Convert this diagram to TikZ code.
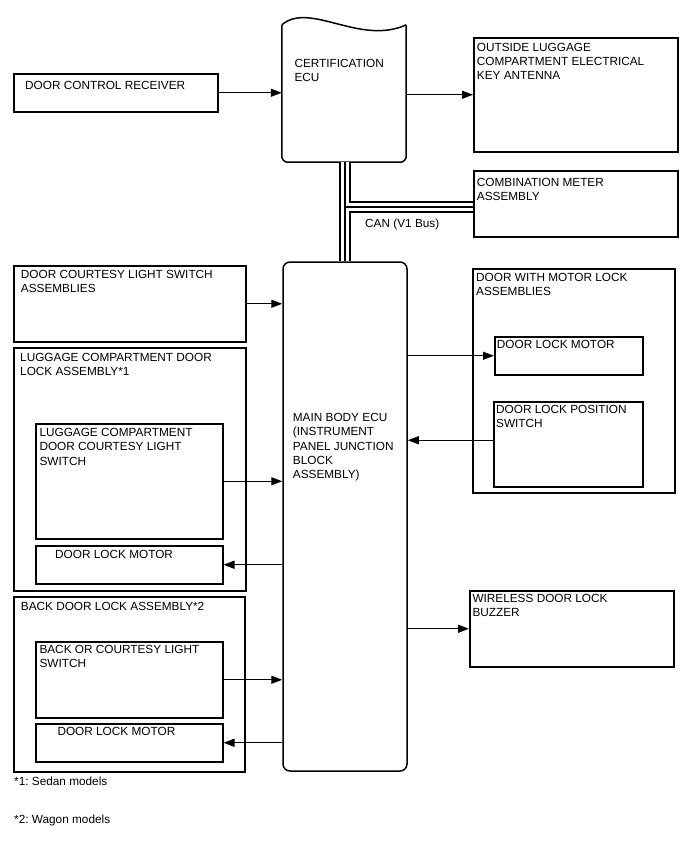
\documentclass[tikz,border=0pt]{standalone}
\usepackage{fontspec}
\setmainfont{Liberation Sans}
\usetikzlibrary{arrows.meta}
\frenchspacing
\tikzset{
  block/.style={
    draw,
    rectangle,
    line width=1.5pt,
    inner sep=0pt,
    anchor=north west
  },
  ecu box/.style={
    draw,
    rectangle,
    rounded corners=7pt,
    line width=1.5pt,
    inner sep=0pt
  },
  ecu line/.style={
    line width=1.5pt,
    line join=round
  },
  sig/.style={
    ->,
    line width=1.3pt
  },
  lbl/.style={
    anchor=north west,
    align=left,
    inner sep=0pt,
    font=\fontsize{11.8}{14.2}\selectfont
  },
  can outer/.style={line width=12.4pt},
  can inner/.style={line width=8pt, color=white},
  can core/.style={line width=1.4pt}
}

\begin{document}
\begin{tikzpicture}[x=1pt, y=-1pt, >={Triangle[length=11pt, width=8pt]}]
    % page frame: 1 unit = 1 px, y grows downwards
    \useasboundingbox[fill=white] (0,0) rectangle (688,852);

    % certification ECU (wavy top)
    \node[inner sep=0pt, minimum width=124, minimum height=137] (cert) at (344,93.5) {};
    \draw[ecu line, rounded corners=6pt] (cert.north west) -- (cert.south west) -- (cert.south east) -- (cert.north east);
    \draw[ecu line] (cert.north west) .. controls (310,1) and (360,46) .. (cert.north east);
    \node[lbl] (cert-t) at (294.3,59.3) {CERTIFICATION\\ECU};

    % main body ECU
    \node[ecu box, minimum width=124, minimum height=509] (main) at (345,516.5) {};
    \node[lbl] (main-t) at (292.7,413.3) {MAIN BODY ECU\\(INSTRUMENT\\PANEL JUNCTION\\BLOCK\\ASSEMBLY)};

    % top row
    \node[block, minimum width=204, minimum height=38] (receiver) at (13,73) {};
    \node[lbl] (receiver-t) at (25,80.7) {DOOR CONTROL RECEIVER};
    \node[block, minimum width=204, minimum height=114] (antenna) at (473,37) {};
    \node[lbl] (antenna-t) at (476.7,42.7) {OUTSIDE LUGGAGE\\COMPARTMENT ELECTRICAL\\KEY ANTENNA};
    \node[block, minimum width=204, minimum height=66] (meter) at (473,170) {};
    \node[lbl] (meter-t) at (476.7,178.3) {COMBINATION METER\\ASSEMBLY};

    % left side
    \node[block, minimum width=232, minimum height=76] (courtesy) at (13,265) {};
    \node[lbl] (courtesy-t) at (20.7,270) {DOOR COURTESY LIGHT SWITCH\\ASSEMBLIES};

    \node[block, minimum width=232, minimum height=243] (lugassy) at (13,347) {};
    \node[lbl] (lugassy-t) at (20,353.3) {LUGGAGE COMPARTMENT DOOR\\LOCK ASSEMBLY*1};
    \node[block, minimum width=187, minimum height=115] (lugswitch) at (35,423) {};
    \node[lbl] (lugswitch-t) at (39.3,428.3) {LUGGAGE COMPARTMENT\\DOOR COURTESY LIGHT\\SWITCH};
    \node[block, minimum width=187, minimum height=38] (lugmotor) at (35,545) {};
    \node[lbl] (lugmotor-t) at (55,550) {DOOR LOCK MOTOR};

    \node[block, minimum width=231, minimum height=175] (backassy) at (13,596) {};
    \node[lbl] (backassy-t) at (20.7,601.7) {BACK DOOR LOCK ASSEMBLY*2};
    \node[block, minimum width=187, minimum height=76] (backswitch) at (35,641) {};
    \node[lbl] (backswitch-t) at (39.3,645) {BACK OR COURTESY LIGHT\\SWITCH};
    \node[block, minimum width=187, minimum height=38] (backmotor) at (35,723) {};
    \node[lbl] (backmotor-t) at (57.3,726.7) {DOOR LOCK MOTOR};

    % right side
    \node[block, minimum width=202, minimum height=224] (motorassy) at (472,268) {};
    \node[lbl] (motorassy-t) at (476,273.3) {DOOR WITH MOTOR LOCK\\ASSEMBLIES};
    \node[block, minimum width=148, minimum height=38] (rmotor) at (494,336) {};
    \node[lbl] (rmotor-t) at (496.7,340) {DOOR LOCK MOTOR};
    \node[block, minimum width=149, minimum height=85] (posswitch) at (493,401) {};
    \node[lbl] (posswitch-t) at (496,405) {DOOR LOCK POSITION\\SWITCH};
    \node[block, minimum width=204, minimum height=76] (buzzer) at (469,590) {};
    \node[lbl] (buzzer-t) at (472.3,594.3) {WIRELESS DOOR LOCK\\BUZZER};

    % notes
    \node[lbl] (note1) at (14,776.7) {*1: Sedan models};
    \node[lbl] (note2) at (14,815) {*2: Wagon models};

    % CAN bus: black, white, black again
    \coordinate (can tap) at (345,207);
    \draw[can outer] (main.north |- cert.south) -- (main.north) (can tap) -- (can tap -| meter.west);
    \draw[can inner] (main.north |- cert.south) -- (main.north) (can tap) -- (can tap -| meter.west);
    \draw[can core] (main.north |- cert.south) -- (main.north) (can tap) -- (can tap -| meter.west);
    \node[lbl] (can-t) at (365,218.3) {CAN (V1 Bus)};

    % signal lines
    \draw[sig] (receiver.east) -- (receiver.east -| cert.west);
    \draw[sig] (cert.east |- antenna.west) -- (antenna.west);
    \draw[sig] (courtesy.east) -- (courtesy.east -| main.west);
    \draw[sig] (lugswitch.east) -- (lugswitch.east -| main.west);
    \draw[sig] (lugmotor.east -| main.west) -- (lugmotor.east);
    \draw[sig] (backswitch.east) -- (backswitch.east -| main.west);
    \draw[sig] (backmotor.east -| main.west) -- (backmotor.east);
    \draw[sig] (rmotor.west -| main.east) -- (rmotor.west);
    \draw[sig] ([yshift=4pt]posswitch.west) -- ([yshift=4pt]posswitch.west -| main.east);
    \draw[sig] (buzzer.west -| main.east) -- (buzzer.west);
\end{tikzpicture}
\end{document}
